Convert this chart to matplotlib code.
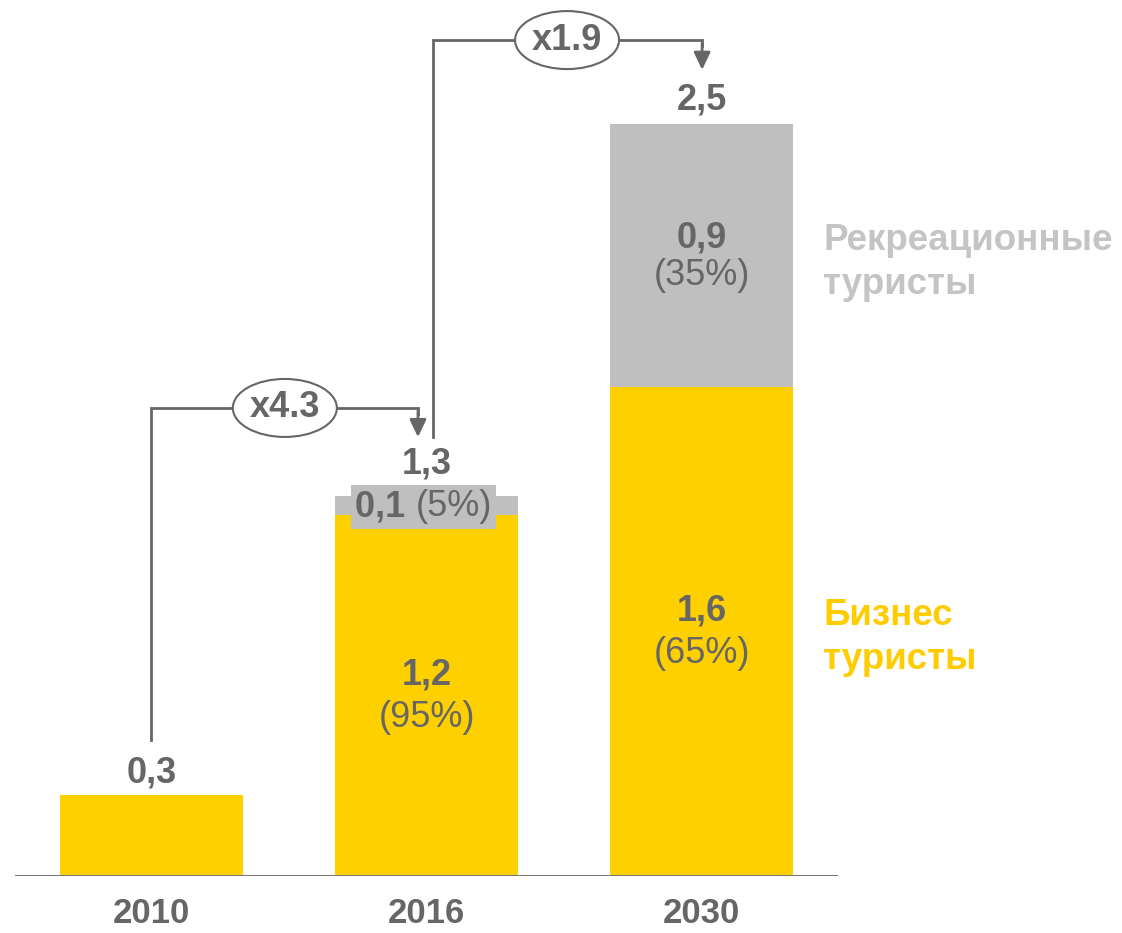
import matplotlib
matplotlib.use("Agg")
import matplotlib.pyplot as plt
from matplotlib.patches import Ellipse

plt.rcParams['font.family'] = ['Liberation Sans', 'DejaVu Sans']

# ---- data ----
years = ["2010", "2016", "2030"]
business = [0.27, 1.20, 1.625]
recreation = [0.0, 0.063, 0.875]
total_labels = ["0,3", "1,3", "2,5"]
business_labels = [None, ("1,2", "(95%)"), ("1,6", "(65%)")]
recreation_labels = [None, ("0,1", "(5%)"), ("0,9", "(35%)")]
growth_labels = ["x4.3", "x1.9"]
legend_rec = "Рекреационные\nтуристы"
legend_bus = "Бизнес\nтуристы"

YELLOW = "#FFD000"
GRAY = "#BFBFBF"
TEXT = "#666666"
LEG_GRAY = "#C4C4C4"
LEG_YEL = "#FFCC00"

W, H = 1122, 933
fig = plt.figure(figsize=(W / 100, H / 100), dpi=100)
ax = fig.add_axes([15 / W, 57 / H, (838 - 15) / W, (H - 57) / H])
ax.set_xlim(-0.496, 2.496)
ax.set_ylim(0, 876 / 300.8)
ax.axis("off")

x = list(range(len(years)))
bw = 0.665
ax.bar(x, business, width=bw, color=YELLOW, zorder=2)
ax.bar(x, recreation, width=bw, bottom=business, color=GRAY, zorder=2)
ax.axhline(0, color="#777777", lw=2.2, zorder=3, xmin=0, xmax=1)

FS = 26
# year labels
for xi, y in zip(x, years):
    ax.annotate(y, (xi, 0), xytext=(0, -27), textcoords="offset points",
                ha="center", va="center", fontsize=25, fontweight="bold",
                color=TEXT, family=['Liberation Sans Narrow', 'Liberation Sans'],
                annotation_clip=False)

tops = [b + r for b, r in zip(business, recreation)]
offs = [16, 23, 17]
for xi, t, lab, o in zip(x, tops, total_labels, offs):
    ax.annotate(lab, (xi, t), xytext=(0, o), textcoords="offset points",
                ha="center", va="center", fontsize=FS, fontweight="bold",
                color=TEXT, annotation_clip=False)

# inner labels
for xi, b, lab in zip(x, business, business_labels):
    if lab is None:
        continue
    yc = b / 2
    ax.annotate(lab[0], (xi, yc), xytext=(0, 15), textcoords="offset points",
                ha="center", va="center", fontsize=FS, fontweight="bold", color=TEXT)
    ax.annotate(lab[1], (xi, yc), xytext=(0, -16), textcoords="offset points",
                ha="center", va="center", fontsize=FS, color=TEXT)

# 2030 recreation (two lines)
lab = recreation_labels[2]
yc = business[2] + recreation[2] / 2
ax.annotate(lab[0], (2, yc), xytext=(0, 13), textcoords="offset points",
            ha="center", va="center", fontsize=FS, fontweight="bold", color=TEXT)
ax.annotate(lab[1], (2, yc), xytext=(0, -14), textcoords="offset points",
            ha="center", va="center", fontsize=FS, color=TEXT)

# 2016 recreation (single line with gray box)
lab = recreation_labels[1]
yc = business[1] + recreation[1] / 2
ax.annotate(lab[0] + " ", (1, yc), xytext=(-8, -1), textcoords="offset points",
            ha="right", va="center", fontsize=FS, fontweight="bold", color=TEXT,
            zorder=5, bbox=dict(boxstyle="square,pad=0.12", fc=GRAY, ec="none"))
ax.annotate(lab[1], (1, yc), xytext=(-8, -1), textcoords="offset points",
            ha="left", va="center", fontsize=FS, color=TEXT, zorder=5,
            bbox=dict(boxstyle="square,pad=0.12", fc=GRAY, ec="none"))

# growth brackets
LC = "#666666"
LW = 2.0
def bracket(x0, y0, x1, ytop, ytip, ex, label):
    ax.plot([x0, x0, x1, x1], [y0, ytop, ytop, ytop - 0.02], color=LC, lw=LW,
            clip_on=False, zorder=4, solid_joinstyle="miter")
    ax.annotate("", xy=(x1, ytip), xytext=(x1, ytop - 0.01),
                arrowprops=dict(arrowstyle="-|>,head_width=0.5,head_length=1.05",
                                color=LC, lw=LW, shrinkA=0, shrinkB=0),
                annotation_clip=False, zorder=4)
    e = Ellipse((ex, ytop), width=104 / 275, height=58 / 300.8, fc="white",
                ec=LC, lw=1.5, clip_on=False, zorder=5)
    ax.add_patch(e)
    ax.text(ex, ytop, label, ha="center", va="center", fontsize=FS,
            fontweight="bold", color=TEXT, zorder=6)

bracket(0, 0.452, 0.969, 1.556, 1.459, 0.485, growth_labels[0])
bracket(1.024, 1.459, 2.002, 2.779, 2.68, 1.511, growth_labels[1])

# side legend text
ax.text(2.442, business[2] + recreation[2] / 2 - 0.022, legend_rec, ha="left", va="center",
        fontsize=26.5, fontweight="bold", color=LEG_GRAY, linespacing=1.32,
        clip_on=False)
ax.text(2.442, business[2] / 2 - 0.02, legend_bus, ha="left", va="center",
        fontsize=26.5, fontweight="bold", color=LEG_YEL, linespacing=1.32,
        clip_on=False)

fig.savefig("out.png", dpi=100, facecolor="white")
